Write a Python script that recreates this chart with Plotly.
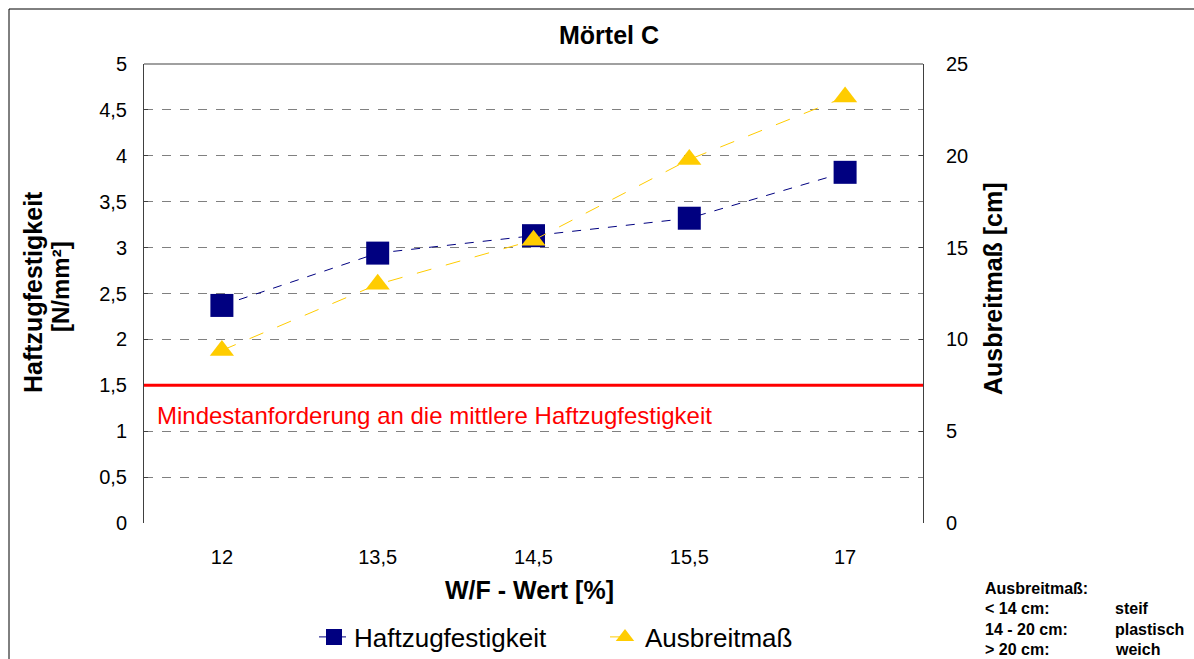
import plotly.graph_objects as go

# W/F-Wert categories and measured values
wf_werte = ["12", "13,5", "14,5", "15,5", "17"]
haftzug = [2.37, 2.94, 3.13, 3.32, 3.82]        # N/mm²
ausbreitmass = [9.4, 13.0, 15.4, 19.8, 23.2]    # cm
mindest_haftzug = 1.5

W, H = 1194, 659
L, R, T, B = 144, 923, 64, 523
PW, PH = R - L, B - T


def px(x):
    return (x - L) / PW


def py(y):
    return (B - y) / PH


FONT = "Liberation Sans, Arial, sans-serif"

fig = go.Figure()
fig.add_trace(go.Scatter(
    x=wf_werte, y=haftzug, name="Haftzugfestigkeit", mode="lines+markers",
    line=dict(color="#000080", width=1, dash="dash"),
    marker=dict(symbol="square", size=23, color="#000080"),
    yaxis="y",
))
fig.add_trace(go.Scatter(
    x=wf_werte, y=ausbreitmass, name="Ausbreitmaß", mode="lines+markers",
    line=dict(color="#FFCC00", width=1, dash="longdash"),
    marker=dict(symbol="triangle-up", size=21, color="#FFCC00"),
    yaxis="y2",
))

fig.update_layout(
    width=W, height=H,
    margin=dict(l=L, r=W - R, t=T, b=H - B, autoexpand=False),
    paper_bgcolor="white", plot_bgcolor="white",
    separators=",.",
    font=dict(family=FONT, size=20, color="black"),
    showlegend=True,
    legend=dict(orientation="h", x=px(314), xanchor="left", y=py(637), yanchor="middle",
                font=dict(size=26), entrywidth=246, entrywidthmode="pixels",
                bgcolor="rgba(0,0,0,0)"),
    xaxis=dict(type="category", range=[-0.5, 4.5], showgrid=False, zeroline=False,
               showline=False, ticks="", tickfont=dict(size=20), ticklabelstandoff=20),
    yaxis=dict(range=[0, 5], dtick=0.5, showgrid=True, gridcolor="#808080",
               griddash="dash", gridwidth=1, zeroline=False,
               showline=True, linecolor="#404040", linewidth=1,
               ticks="inside", ticklen=4, tickcolor="#404040",
               tickfont=dict(size=20), ticklabelstandoff=12),
    yaxis2=dict(range=[0, 25], dtick=5, overlaying="y", side="right", showgrid=False,
                zeroline=False, showline=True, linecolor="#404040", linewidth=1,
                ticks="inside", ticklen=4, tickcolor="#404040",
                tickfont=dict(size=20), ticklabelstandoff=18),
)

shapes = [
    # outer chart frame
    dict(type="rect", xref="paper", yref="paper", x0=px(9), x1=px(1220),
         y0=py(700), y1=py(9), line=dict(color="black", width=1), layer="below"),
    # top border of the plot area
    dict(type="line", xref="paper", yref="paper", x0=0, x1=1, y0=1, y1=1,
         line=dict(color="#808080", width=1.5)),
    # minimum requirement line
    dict(type="line", xref="paper", yref="y", x0=0, x1=1,
         y0=mindest_haftzug, y1=mindest_haftzug,
         line=dict(color="#FF0000", width=3)),
]
fig.update_layout(shapes=shapes)


def label(text, x, y, size, angle=0, color="black", anchor="center"):
    return dict(text=text, xref="paper", yref="paper", x=px(x), y=py(y), showarrow=False,
                font=dict(size=size, color=color), textangle=angle,
                xanchor=anchor, yanchor="middle")


annotations = [
    label("<b>Mörtel C</b>", 609, 35, 25),
    label("Mindestanforderung an die mittlere Haftzugfestigkeit", 155, 415, 24,
          color="#FF0000", anchor="left"),
    # axis titles
    label("<b>W/F - Wert [%]</b>", 529, 590, 25),
    label("<b>Haftzugfestigkeit</b>", 33, 292, 25, angle=-90),
    label("<b>[N/mm²]</b>", 60, 287, 24, angle=-90),
    label("<b>Ausbreitmaß [cm]</b>", 993, 289, 25, angle=-90),
]

# consistency classes by spread diameter
side_labels = [("<b>Ausbreitmaß:</b>", ""), ("<b>&lt; 14 cm:</b>", "<b>steif</b>"),
               ("<b>14 - 20 cm:</b>", "<b>plastisch</b>"), ("<b>&gt; 20 cm:</b>", "<b>weich</b>")]
for i, (a, b) in enumerate(side_labels):
    ypos = 588 + i * 20.5
    annotations.append(label(a, 983, ypos, 16, anchor="left"))
    if b:
        annotations.append(label(b, 1113, ypos, 16, anchor="left"))
fig.update_layout(annotations=annotations)

fig.write_html("out.html")
